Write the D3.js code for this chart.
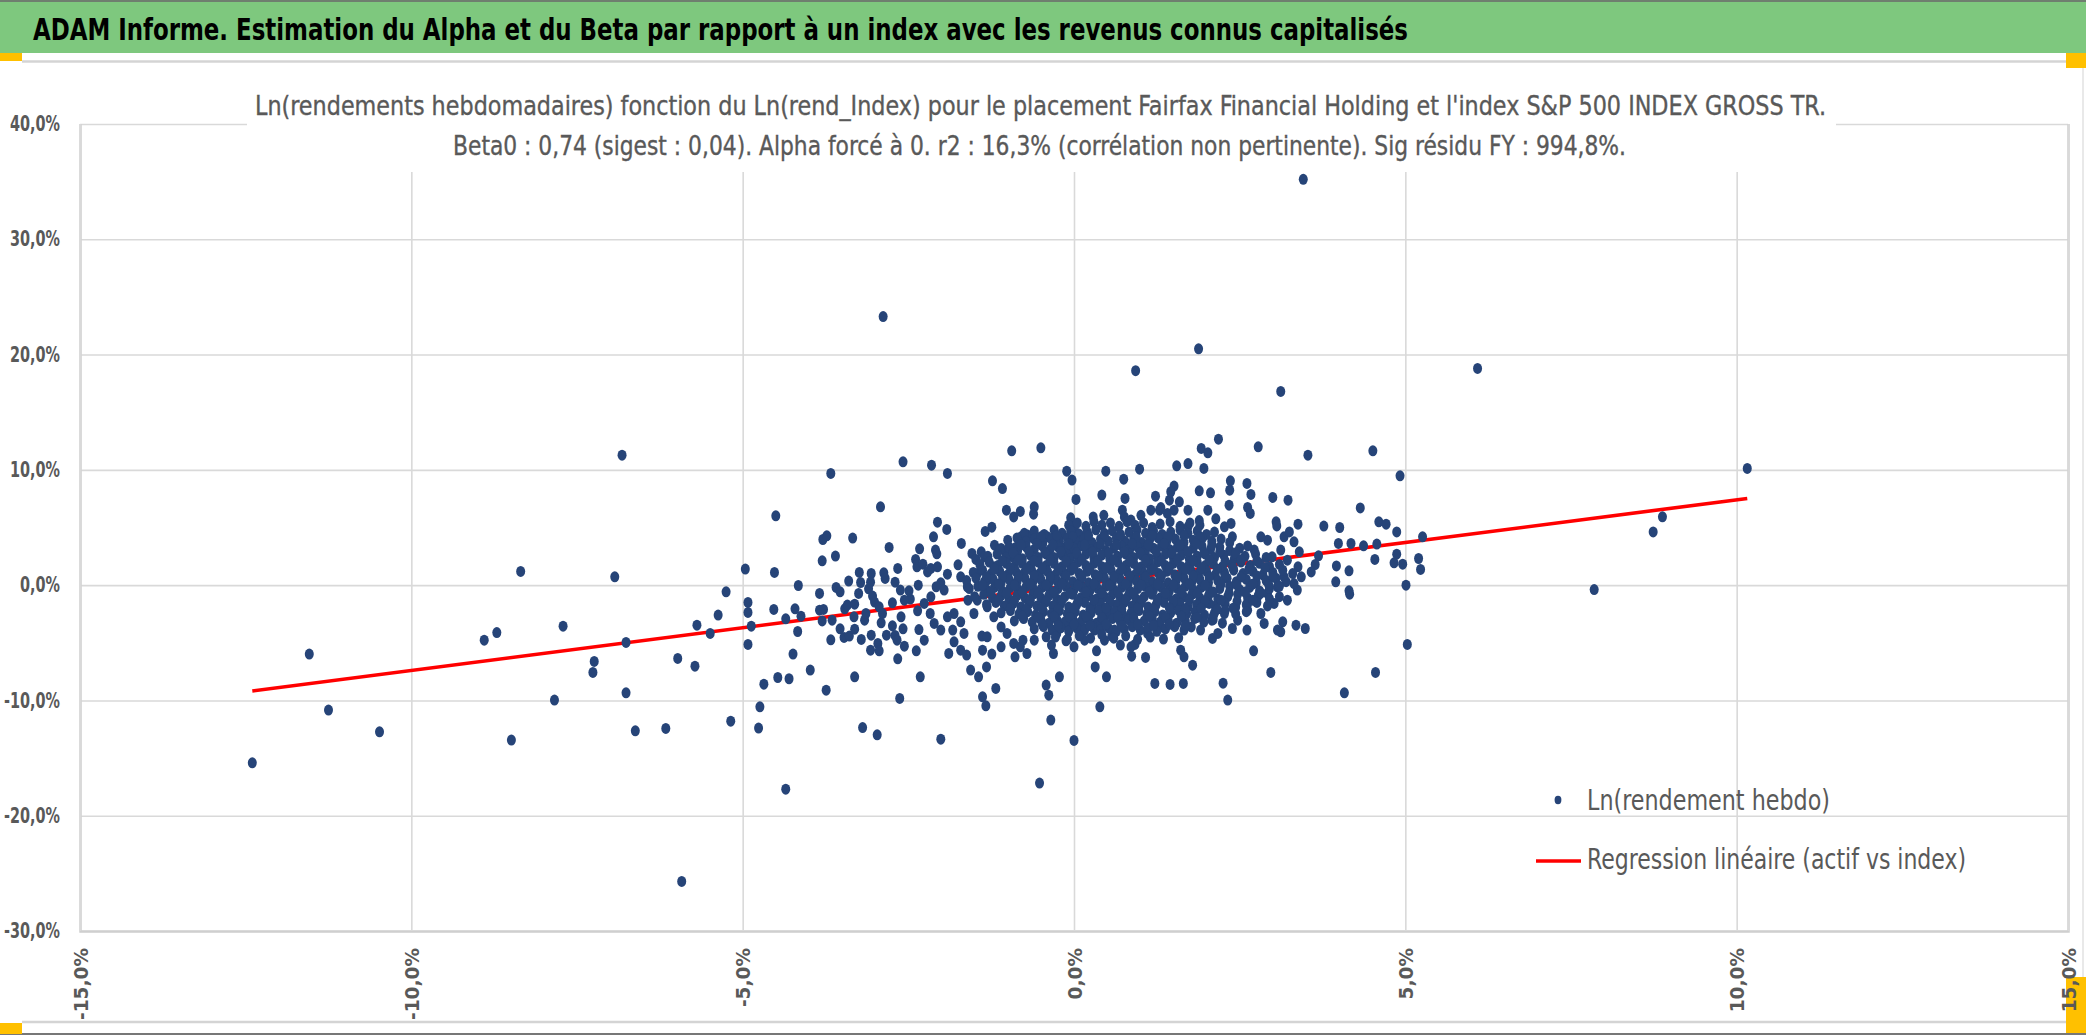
<!DOCTYPE html>
<html>
<head>
<meta charset="utf-8">
<script src="https://cdn.jsdelivr.net/npm/d3@7"></script>
<style>
  body { margin: 0; background: #fff; }
  svg { display: block; }
</style>
</head>
<body>
<div id="chart"></div>
<script>
// ---- text ----
const pageTitle = "ADAM Informe. Estimation du Alpha et du Beta par rapport à un index avec les revenus connus capitalisés";
const chartTitle = [
  "Ln(rendements hebdomadaires) fonction du Ln(rend_Index) pour le placement Fairfax Financial Holding et l'index S&P 500 INDEX GROSS TR.",
  "Beta0 : 0,74 (sigest : 0,04). Alpha forcé à 0. r2 : 16,3% (corrélation non pertinente). Sig résidu FY : 994,8%."
];
const legendLabels = ["Ln(rendement hebdo)", "Regression linéaire (actif vs index)"];

// ---- regression ----
const beta = 0.74;
const alpha = 0;

// ---- axes (percent) ----
const xTicks = [-15, -10, -5, 0, 5, 10, 15];
const yTicks = [-30, -20, -10, 0, 10, 20, 30, 40];

// ---- weekly points [index %, asset %] ----
const outlierPoints = [
  [3.46,35.2],[-2.88,23.3],[1.88,20.5],[6.09,18.8],[0.93,18.6],[3.12,16.8],[10.16,10.12],[8.88,5.93],[8.74,4.62],[7.85,-0.38],
  [-12.40,-15.41],[-11.54,-5.98],[-11.25,-10.84],[-10.48,-12.72],[-8.90,-4.77],[-8.71,-4.11],[-8.35,1.19],[-8.49,-13.44],
  [-7.84,-9.97],[-7.71,-3.56],[-7.26,-7.57],[-7.24,-6.62],[-6.93,0.72],[-6.82,11.27],[-6.76,-4.97],[-6.76,-9.34],[-6.62,-12.64],
  [-6.16,-12.43],[-5.98,-6.36],[-5.72,-7.03],[-5.69,-3.47],[-5.49,-4.19],[-5.37,-2.60],[-5.92,-25.7],
  [-5.18,-11.8],[-4.74,-10.55],[-4.76,-12.4],[-4.35,-17.7],[-3.19,-12.35],[-2.97,-12.98],[-2.01,-13.36],[-1.33,-10.47],
  [-0.52,-17.17],[-0.35,-11.7],[0.0,-13.47],[0.39,-10.55]
];

const leftSpreadPoints = [
  [-0.94,11.65],[-0.50,11.91],[-2.58,10.70],[-2.15,10.41],[-1.91,9.69],[-3.67,9.69],[-0.11,9.89],[-0.03,9.11],[-1.23,9.05],
  [-1.08,8.38],[0.03,7.43],[-2.92,6.79],[-4.50,6.01],[-1.02,6.50],[-0.91,5.92],[-0.81,6.39],[-0.60,6.79],[-0.61,6.16],
  [-0.05,5.84],[-2.06,5.46],[-1.92,4.83],[-1.34,4.66],[-1.24,5.03],[-2.12,4.19],[-3.34,4.08],[-3.79,3.96],[-3.73,4.28],
  [-2.79,3.27],[-1.70,3.62],[-2.33,3.15],[-2.09,3.04],[-2.07,2.72],[-3.60,2.52],[-3.80,2.11],[-4.96,1.39],[-4.52,1.10],
  [-5.25,-0.58],[-4.16,-0.03],[-3.84,-0.72],[-4.92,-1.50],[-4.92,-2.37],[-4.87,-3.56],[-4.53,-2.11],[-4.92,-5.14],
  [-4.35,-2.92],[-4.21,-2.05],[-4.17,-4.02],[-4.12,-2.69],[-4.24,-5.98],[-4.68,-8.59],[-4.47,-8.01],[-4.30,-8.12],
  [-3.98,-7.37],[-3.74,-9.11],[-3.31,-7.95],[-2.63,-9.83],[-2.32,-7.95],
  [-3.40,0.35],[-3.24,1.10],[-3.06,1.01],[-2.87,1.07],[-2.85,0.58],[-2.66,1.45],[-2.70,0.26],[-3.22,0.23],[-3.25,-0.72],
  [-3.10,-0.32],[-3.07,0.26],[-3.59,-0.20],[-3.53,-0.58],[-3.84,-2.17],[-3.78,-2.11],[-3.80,-3.10],[-3.65,-3.04],
  [-3.67,-4.74],[-3.53,-3.79],[-3.46,-2.05],[-3.42,-1.73],[-3.47,-4.54],[-3.39,-4.42],[-3.31,-3.82],[-3.31,-1.65],
  [-3.32,-2.75],[-3.21,-4.71],[-3.16,-3.04],[-3.14,-2.46],[-3.07,-5.64],[-3.06,-4.34],[-2.96,-5.06],[-2.94,-5.70],
  [-2.91,-3.27],[-2.83,-4.34],[-2.74,-3.53],[-2.70,-4.36],[-2.67,-4.77],[-2.66,-6.39],[-2.61,-2.75],[-2.58,-3.79],
  [-2.56,-5.29],[-2.38,-5.70],[-2.26,-4.77],[-2.34,-3.85],[-2.47,-1.21],[-2.62,-0.43],[-2.49,-0.49],[-2.56,-1.30],
  [-2.74,-1.53],[-3.01,-1.47],[-3.04,-0.95],[-2.94,-1.88],[-2.89,-2.46],[-2.36,-2.23],[-2.35,0.0],[-2.37,1.59],
  [-2.39,2.23],[-2.28,1.82],[-2.21,1.15],[-2.16,1.45],[-2.06,1.59],[-2.01,0.20],[-1.91,0.95],[-1.75,1.76],[-1.54,2.75],
  [-1.48,2.23],[-1.40,2.89],[-1.35,2.46],[-1.20,3.47],[-1.10,3.18],[-1.03,2.75],[-0.93,2.46],[-0.88,3.27],[-0.80,4.19],
  [-0.70,4.34],[-0.65,4.19],[-0.55,3.62],[-0.40,4.19],[-0.32,4.05],[-0.25,3.76],[-0.12,3.32],[-0.05,3.04],[0.0,5.06],
  [0.06,4.48],[0.08,4.05],
  [-1.71,-5.64],[-1.89,-5.92],[-1.62,-6.07],[-1.56,-7.37],[-1.44,-7.95],[-1.38,-5.64],[-1.32,-7.09],[-1.24,-5.98],
  [-1.18,-8.96],[-1.10,-5.35],[-0.89,-6.22],[-0.81,-5.35],[-0.77,-4.77],[-0.42,-8.67],[-0.38,-9.54],[-0.22,-7.95],
  [-0.34,-5.20],[-0.42,-4.48],[-0.26,-4.19],[-0.12,-4.83],[0.09,-4.19],[-1.38,-9.69],[-1.39,-4.42],[-1.81,-4.92],
  [-1.83,-3.90],[-2.01,-3.90],[-2.11,-3.32],[-2.17,-2.46],[-2.26,-1.59],[-2.16,-1.01],[-2.08,-0.14],[-1.96,-0.43],
  [-1.81,-2.46],[-1.71,-3.18],[-1.91,-2.75],[-1.60,-1.30],
  [-1.46,1.01],[-1.31,0.43],[-1.21,1.59],[-1.46,-1.30],[-1.31,-1.88],[-1.21,-2.75],[-1.10,-3.62],[-1.51,-2.46],
  [-1.61,-0.14],[-1.71,0.72],[-1.66,-4.19],[-1.31,-4.48],[-1.01,-4.19],[-0.91,-5.06],[-0.60,-4.77],[-0.09,-3.62],
  [0.0,-5.35],[-0.31,-5.93],[-0.71,-5.93]
];

const rightSpreadPoints = [
  [2.18,12.66],[1.92,11.86],[2.02,11.48],[2.78,12.0],[3.53,11.27],[4.51,11.65],[4.92,9.48],[0.48,9.89],[0.99,10.06],
  [0.75,9.19],[1.55,10.35],[1.72,10.55],[1.96,10.12],[0.42,7.81],[0.77,7.52],[1.23,7.72],[1.51,8.59],[1.89,8.18],
  [2.06,8.01],[2.36,9.05],[2.35,8.24],[2.61,8.82],[2.67,7.87],[2.34,6.94],[2.62,6.74],[2.66,6.22],[3.00,7.61],[3.23,7.37],
  [4.32,6.70],[4.60,5.49],[4.71,5.29],[4.87,4.62],[3.77,5.12],[4.01,5.00],[3.38,5.29],[3.05,5.49],[3.06,5.14],[5.26,4.19],
  [3.99,3.62],[4.18,3.62],[4.37,3.41],[4.57,3.56],[4.87,2.69],[4.83,1.94],[4.96,1.82],[5.20,2.31],[5.23,1.36],[4.54,2.23],
  [3.96,1.67],[4.15,1.24],[3.95,0.29],[4.15,-0.49],[4.16,-0.78],[5.01,0.0],[5.03,-5.14],[4.55,-7.57],[4.08,-9.34],
  [2.97,-7.57],[2.71,-5.70],[2.32,-9.97],[3.69,2.54],[3.64,1.79],[3.58,1.15],[3.43,0.72],[3.37,-0.43],[3.49,-3.76],
  [3.35,-3.47],[3.15,-3.18],[3.12,-4.05],[3.07,-3.90],[2.87,-3.32],[2.61,-3.90],[2.39,-3.76],[2.09,-4.62],[2.08,-3.04],
  [2.04,-1.59],[1.91,-3.90],[1.77,-3.62],[1.79,-6.94],[1.61,-5.64],[1.66,-6.22],[1.58,-4.57],[1.35,-4.68],[1.65,-8.53],
  [1.45,-8.61],[1.22,-8.53],[1.08,-6.27],[0.87,-6.16],[0.92,-5.14],[0.70,-5.20],[0.49,-7.95],[0.32,-7.09],[0.34,-5.70],
  [0.46,-4.77],[0.57,-4.42],[0.31,-3.90],[0.16,-4.77],[0.15,-3.76],[2.25,-8.5],
  [0.29,5.92],[0.45,6.06],[0.73,6.5],[0.76,5.92],[1.01,6.06],[1.29,6.5],[1.44,7.37],[1.59,7.23],[1.46,8.1],[1.51,6.5],
  [1.72,6.5],[2.02,6.5],[1.72,5.06],[1.89,5.6],[2.14,5.75],[2.27,5.06],[2.39,4.19],[2.37,5.35],[1.31,6.73],[1.16,6.50],
  [1.41,6.22],[0.86,5.64],
  [3.17,4.19],[3.25,4.62],[3.32,3.76],[3.40,2.89],[3.12,3.04],[2.92,3.90],[2.82,4.19],[2.72,3.04],[2.99,2.46],[3.22,2.17],
  [3.38,1.59],[3.17,0.72],[3.32,0.14],[3.07,-0.14],[2.92,-0.72],[3.22,-1.30],[3.02,-1.59],[2.82,-2.46],[2.62,-2.17],
  [2.47,-3.04],[2.27,-2.46],[2.17,-4.19],[2.62,-1.59],
  [0.21,-2.75],[0.41,-3.04],[0.61,-3.90],[1.11,-4.19],[1.31,-3.62],[0.86,-5.35]
];

// the solid blob around the origin
const denseCorePoints = [
  [-0.08,5.2],[0.05,5.4],[0.18,5.1],[0.3,5.5],[0.42,5.2],[0.55,5.4],[0.68,5.1],[0.8,5.5],[0.92,5.2],[1.05,5.4],[1.18,5.0],
  [1.3,5.3],[1.45,5.5],[1.6,5.1],[1.75,5.4],[1.9,5.2],
  [-0.75,4.5],[-0.6,4.7],[-0.45,4.4],[-0.3,4.8],[-0.18,4.5],[-0.05,4.7],[0.08,4.4],[0.2,4.6],[0.33,4.8],[0.46,4.5],[0.58,4.7],
  [0.7,4.4],[0.83,4.6],[0.95,4.8],[1.08,4.5],[1.2,4.7],[1.33,4.4],[1.46,4.6],[1.6,4.8],[1.72,4.5],[1.86,4.7],[2.0,4.4],[2.12,4.6],
  [-1.0,3.9],[-0.86,4.1],[-0.72,3.8],[-0.6,4.0],[-0.47,3.7],[-0.34,4.0],[-0.22,3.8],[-0.1,4.1],[0.03,3.8],[0.15,4.0],[0.27,3.7],
  [0.4,4.0],[0.52,3.8],[0.64,4.1],[0.77,3.8],[0.9,4.0],[1.02,3.7],[1.14,3.9],[1.27,4.1],[1.4,3.8],[1.53,4.0],[1.66,3.7],[1.8,3.9],
  [1.94,4.1],[2.08,3.8],[2.22,4.0],[2.35,3.7],
  [-1.12,3.1],[-0.98,3.3],[-0.85,3.0],[-0.72,3.3],[-0.6,3.1],[-0.48,3.4],[-0.36,3.1],[-0.24,3.3],[-0.12,3.0],[0.0,3.2],[0.12,3.4],
  [0.24,3.1],[0.36,3.3],[0.48,3.0],[0.6,3.2],[0.72,3.4],[0.84,3.1],[0.96,3.3],[1.08,3.0],[1.2,3.2],[1.32,3.4],[1.44,3.1],[1.56,3.3],
  [1.68,3.0],[1.8,3.2],[1.93,3.4],[2.06,3.1],[2.2,3.3],[2.35,3.0],[2.5,3.2],[2.62,3.4],
  [-1.3,2.5],[-1.16,2.7],[-1.02,2.4],[-0.9,2.6],[-0.78,2.3],[-0.66,2.6],[-0.54,2.4],[-0.42,2.7],[-0.3,2.4],[-0.18,2.6],[-0.06,2.3],
  [0.06,2.5],[0.18,2.7],[0.3,2.4],[0.42,2.6],[0.54,2.3],[0.66,2.5],[0.78,2.7],[0.9,2.4],[1.02,2.6],[1.14,2.3],[1.26,2.5],[1.38,2.7],
  [1.5,2.4],[1.62,2.6],[1.74,2.3],[1.86,2.5],[1.98,2.7],[2.12,2.4],[2.26,2.6],[2.42,2.3],[2.58,2.5],[2.74,2.7],[2.9,2.4],
  [-1.42,1.8],[-1.28,2.0],[-1.15,1.7],[-1.02,1.9],[-0.9,1.6],[-0.78,1.9],[-0.66,1.7],[-0.54,2.0],[-0.42,1.7],[-0.3,1.9],[-0.18,1.6],
  [-0.06,1.8],[0.06,2.0],[0.18,1.7],[0.3,1.9],[0.42,1.6],[0.54,1.8],[0.66,2.0],[0.78,1.7],[0.9,1.9],[1.02,1.6],[1.14,1.8],[1.26,2.0],
  [1.38,1.7],[1.5,1.9],[1.62,1.6],[1.74,1.8],[1.86,2.0],[1.98,1.7],[2.1,1.9],[2.24,1.6],[2.38,1.8],[2.52,2.0],[2.66,1.7],[2.8,1.9],
  [2.95,1.6],[3.1,1.8],
  [-1.52,1.1],[-1.38,1.3],[-1.25,1.0],[-1.12,1.2],[-1.0,0.9],[-0.88,1.2],[-0.76,1.0],[-0.64,1.3],[-0.52,1.0],[-0.4,1.2],[-0.28,0.9],
  [-0.16,1.1],[-0.04,1.3],[0.08,1.0],[0.2,1.2],[0.32,0.9],[0.44,1.1],[0.56,1.3],[0.68,1.0],[0.8,1.2],[0.92,0.9],[1.04,1.1],[1.16,1.3],
  [1.28,1.0],[1.4,1.2],[1.52,0.9],[1.64,1.1],[1.76,1.3],[1.88,1.0],[2.0,1.2],[2.13,0.9],[2.27,1.1],[2.41,1.3],[2.55,1.0],[2.7,1.2],
  [2.85,0.9],[3.0,1.1],[3.15,1.3],[3.3,1.0],
  [-1.62,0.4],[-1.48,0.6],[-1.35,0.3],[-1.22,0.5],[-1.1,0.2],[-0.98,0.5],[-0.86,0.3],[-0.74,0.6],[-0.62,0.3],[-0.5,0.5],[-0.38,0.2],
  [-0.26,0.4],[-0.14,0.6],[-0.02,0.3],[0.1,0.5],[0.22,0.2],[0.34,0.4],[0.46,0.6],[0.58,0.3],[0.7,0.5],[0.82,0.2],[0.94,0.4],[1.06,0.6],
  [1.18,0.3],[1.3,0.5],[1.42,0.2],[1.54,0.4],[1.66,0.6],[1.78,0.3],[1.9,0.5],[2.03,0.2],[2.17,0.4],[2.31,0.6],[2.45,0.3],[2.6,0.5],
  [2.75,0.2],[2.9,0.4],[3.05,0.6],[3.2,0.3],
  [-1.58,-0.3],[-1.45,-0.1],[-1.32,-0.4],[-1.2,-0.2],[-1.08,-0.5],[-0.96,-0.2],[-0.84,-0.4],[-0.72,-0.1],[-0.6,-0.4],[-0.48,-0.2],
  [-0.36,-0.5],[-0.24,-0.3],[-0.12,-0.1],[0.0,-0.4],[0.12,-0.2],[0.24,-0.5],[0.36,-0.3],[0.48,-0.1],[0.6,-0.4],[0.72,-0.2],[0.84,-0.5],
  [0.96,-0.3],[1.08,-0.1],[1.2,-0.4],[1.32,-0.2],[1.44,-0.5],[1.56,-0.3],[1.68,-0.1],[1.8,-0.4],[1.92,-0.2],[2.05,-0.5],[2.2,-0.3],
  [2.35,-0.1],[2.5,-0.4],[2.65,-0.2],[2.8,-0.5],[2.95,-0.3],[3.1,-0.1],
  [-1.5,-1.0],[-1.36,-0.8],[-1.23,-1.1],[-1.1,-0.9],[-0.98,-1.2],[-0.86,-0.9],[-0.74,-1.1],[-0.62,-0.8],[-0.5,-1.1],[-0.38,-0.9],
  [-0.26,-1.2],[-0.14,-1.0],[-0.02,-0.8],[0.1,-1.1],[0.22,-0.9],[0.34,-1.2],[0.46,-1.0],[0.58,-0.8],[0.7,-1.1],[0.82,-0.9],[0.94,-1.2],
  [1.06,-1.0],[1.18,-0.8],[1.3,-1.1],[1.42,-0.9],[1.54,-1.2],[1.66,-1.0],[1.78,-0.8],[1.9,-1.1],[2.03,-0.9],[2.17,-1.2],[2.32,-1.0],
  [2.47,-0.8],[2.62,-1.1],[2.78,-0.9],[2.95,-1.2],[3.1,-1.0],
  [-1.32,-1.7],[-1.18,-1.5],[-1.05,-1.8],[-0.92,-1.6],[-0.8,-1.9],[-0.68,-1.6],[-0.56,-1.8],[-0.44,-1.5],[-0.32,-1.8],[-0.2,-1.6],
  [-0.08,-1.9],[0.04,-1.7],[0.16,-1.5],[0.28,-1.8],[0.4,-1.6],[0.52,-1.9],[0.64,-1.7],[0.76,-1.5],[0.88,-1.8],[1.0,-1.6],[1.12,-1.9],
  [1.24,-1.7],[1.36,-1.5],[1.48,-1.8],[1.6,-1.6],[1.72,-1.9],[1.85,-1.7],[1.99,-1.5],[2.13,-1.8],[2.28,-1.6],[2.44,-1.9],[2.6,-1.7],
  [2.76,-1.5],[2.92,-1.8],
  [-1.1,-2.4],[-0.96,-2.2],[-0.83,-2.5],[-0.7,-2.3],[-0.58,-2.6],[-0.46,-2.3],[-0.34,-2.5],[-0.22,-2.2],[-0.1,-2.5],[0.02,-2.3],
  [0.14,-2.6],[0.26,-2.4],[0.38,-2.2],[0.5,-2.5],[0.62,-2.3],[0.74,-2.6],[0.86,-2.4],[0.98,-2.2],[1.1,-2.5],[1.22,-2.3],[1.34,-2.6],
  [1.46,-2.4],[1.58,-2.2],[1.7,-2.5],[1.83,-2.3],[1.97,-2.6],[2.12,-2.4],[2.28,-2.2],[2.44,-2.5],[2.6,-2.3],
  [-0.9,-3.1],[-0.76,-2.9],[-0.63,-3.2],[-0.5,-3.0],[-0.38,-3.3],[-0.26,-3.0],[-0.14,-3.2],[-0.02,-2.9],[0.1,-3.2],[0.22,-3.0],
  [0.34,-3.3],[0.46,-3.1],[0.58,-2.9],[0.7,-3.2],[0.82,-3.0],[0.94,-3.3],[1.06,-3.1],[1.18,-2.9],[1.3,-3.2],[1.42,-3.0],[1.55,-3.3],
  [1.68,-3.1],[1.82,-2.9],[1.96,-3.2],[2.1,-3.0],[2.24,-3.3],
  [-0.6,-3.8],[-0.46,-3.6],[-0.33,-3.9],[-0.2,-3.7],[-0.08,-4.0],[0.04,-3.7],[0.16,-3.9],[0.28,-3.6],[0.4,-3.9],[0.52,-3.7],
  [0.64,-4.0],[0.76,-3.8],[0.88,-3.6],[1.0,-3.9],[1.12,-3.7],[1.25,-4.0],[1.38,-3.8],[1.52,-3.6],[1.66,-3.9],
  [-0.28,-4.5],[-0.1,-4.7],[0.08,-4.4],[0.25,-4.6],[0.42,-4.3],[0.6,-4.6],[0.78,-4.4],[0.96,-4.7],[1.15,-4.5]
];

// more weeks packed between the rows of the blob
const denseCoreFill = [
  [-0.5,4.2],[-0.26,4.3],[-0.02,4.2],[0.22,4.3],[0.46,4.2],[0.7,4.3],[0.94,4.2],[1.18,4.3],[1.42,4.2],[1.66,4.3],[1.9,4.2],
  [-0.8,3.5],[-0.56,3.6],[-0.32,3.5],[-0.08,3.6],[0.16,3.5],[0.4,3.6],[0.64,3.5],[0.88,3.6],[1.12,3.5],[1.36,3.6],[1.6,3.5],
  [1.84,3.6],[2.08,3.5],
  [-0.92,2.8],[-0.68,2.9],[-0.44,2.8],[-0.2,2.9],[0.04,2.8],[0.28,2.9],[0.52,2.8],[0.76,2.9],[1.0,2.8],[1.24,2.9],[1.48,2.8],
  [1.72,2.9],[1.96,2.8],[2.2,2.9],[2.44,2.8],
  [-1.08,2.1],[-0.84,2.2],[-0.6,2.1],[-0.36,2.2],[-0.12,2.1],[0.12,2.2],[0.36,2.1],[0.6,2.2],[0.84,2.1],[1.08,2.2],[1.32,2.1],
  [1.56,2.2],[1.8,2.1],[2.04,2.2],[2.28,2.1],[2.52,2.2],[2.76,2.1],
  [-1.2,1.4],[-0.96,1.5],[-0.72,1.4],[-0.48,1.5],[-0.24,1.4],[0.0,1.5],[0.24,1.4],[0.48,1.5],[0.72,1.4],[0.96,1.5],[1.2,1.4],
  [1.44,1.5],[1.68,1.4],[1.92,1.5],[2.16,1.4],[2.4,1.5],[2.64,1.4],[2.88,1.5],
  [-1.32,0.7],[-1.08,0.8],[-0.84,0.7],[-0.6,0.8],[-0.36,0.7],[-0.12,0.8],[0.12,0.7],[0.36,0.8],[0.6,0.7],[0.84,0.8],[1.08,0.7],
  [1.32,0.8],[1.56,0.7],[1.8,0.8],[2.04,0.7],[2.28,0.8],[2.52,0.7],[2.76,0.8],[3.0,0.7],
  [-1.38,0.0],[-1.14,0.1],[-0.9,0.0],[-0.66,0.1],[-0.42,0.0],[-0.18,0.1],[0.06,0.0],[0.3,0.1],[0.54,0.0],[0.78,0.1],[1.02,0.0],
  [1.26,0.1],[1.5,0.0],[1.74,0.1],[1.98,0.0],[2.22,0.1],[2.46,0.0],[2.7,0.1],[2.94,0.0],
  [-1.26,-0.6],[-1.02,-0.7],[-0.78,-0.6],[-0.54,-0.7],[-0.3,-0.6],[-0.06,-0.7],[0.18,-0.6],[0.42,-0.7],[0.66,-0.6],[0.9,-0.7],
  [1.14,-0.6],[1.38,-0.7],[1.62,-0.6],[1.86,-0.7],[2.1,-0.6],[2.34,-0.7],[2.58,-0.6],[2.82,-0.7],
  [-1.14,-1.3],[-0.9,-1.4],[-0.66,-1.3],[-0.42,-1.4],[-0.18,-1.3],[0.06,-1.4],[0.3,-1.3],[0.54,-1.4],[0.78,-1.3],[1.02,-1.4],
  [1.26,-1.3],[1.5,-1.4],[1.74,-1.3],[1.98,-1.4],[2.22,-1.3],[2.46,-1.4],[2.7,-1.3],
  [-0.96,-2.0],[-0.72,-2.1],[-0.48,-2.0],[-0.24,-2.1],[0.0,-2.0],[0.24,-2.1],[0.48,-2.0],[0.72,-2.1],[0.96,-2.0],[1.2,-2.1],
  [1.44,-2.0],[1.68,-2.1],[1.92,-2.0],[2.16,-2.1],[2.4,-2.0],
  [-0.78,-2.7],[-0.54,-2.8],[-0.3,-2.7],[-0.06,-2.8],[0.18,-2.7],[0.42,-2.8],[0.66,-2.7],[0.9,-2.8],[1.14,-2.7],[1.38,-2.8],
  [1.62,-2.7],[1.86,-2.8],[2.1,-2.7],
  [-0.48,-3.4],[-0.24,-3.5],[0.0,-3.4],[0.24,-3.5],[0.48,-3.4],[0.72,-3.5],[0.96,-3.4],[1.2,-3.5],[1.44,-3.4],[1.68,-3.5]
];

const weeklyPoints = [...outlierPoints, ...leftSpreadPoints, ...rightSpreadPoints, ...denseCorePoints, ...denseCoreFill];

// ---- layout ----
const W = 2086, H = 1035;
const plot = {left: 80, right: 2068, top: 124, bottom: 931};
const gridColor = "#d9d9d9";
const textGrey = "#595959";
const dotColor = "#264478";
const narrowFont = "'Liberation Sans Narrow', 'Arial Narrow', 'DejaVu Sans Condensed', 'Open Sans', sans-serif";

const pct = v => v.toFixed(1).replace(".", ",") + "%";

const svg = d3.select("#chart").append("svg")
  .attr("width", W)
  .attr("height", H);

svg.append("rect").attr("width", W).attr("height", H).attr("fill", "#fff");

// header banner and frame bits
svg.append("rect").attr("x", 0).attr("y", 0).attr("width", W).attr("height", 53).attr("fill", "#7ec87e");
svg.append("rect").attr("x", 0).attr("y", 0).attr("width", W).attr("height", 2).attr("fill", "#6f7f6f");
svg.append("line").attr("x1", 22).attr("x2", 2066).attr("y1", 61.5).attr("y2", 61.5)
  .attr("stroke", "#d4d4d4").attr("stroke-width", 2.5);
svg.append("line").attr("x1", 22).attr("x2", 2066).attr("y1", 1022).attr("y2", 1022)
  .attr("stroke", "#d4d4d4").attr("stroke-width", 2.5);
svg.append("line").attr("x1", 2083).attr("x2", 2083).attr("y1", 68).attr("y2", 977)
  .attr("stroke", "#e2e2e2").attr("stroke-width", 1.5);
svg.append("rect").attr("x", 0).attr("y", 1033).attr("width", W).attr("height", 2).attr("fill", "#777");
[[0, 53, 22, 8], [0, 1023, 22, 11], [2066, 53, 20, 15], [2066, 977, 20, 56]].forEach(([x, y, w, h]) => {
  svg.append("rect").attr("x", x).attr("y", y).attr("width", w).attr("height", h).attr("fill", "#ffc000");
});

function fit(sel, width) {
  sel.attr("textLength", width).attr("lengthAdjust", "spacingAndGlyphs");
}

svg.append("text")
  .attr("x", 33).attr("y", 40)
  .attr("font-family", narrowFont)
  .attr("font-size", 30).attr("font-weight", "bold")
  .attr("fill", "#000")
  .text(pageTitle)
  .call(fit, 1375);

// scales
const x = d3.scaleLinear().domain([-15, 15]).range([plot.left, plot.right]);
const y = d3.scaleLinear().domain([-30, 40]).range([plot.bottom, plot.top]);

// y axis with horizontal gridlines
const yAxis = svg.append("g")
  .attr("transform", `translate(${plot.left},0)`)
  .call(d3.axisLeft(y).tickValues(yTicks).tickFormat(pct)
    .tickSize(-(plot.right - plot.left)).tickPadding(20));
yAxis.select(".domain").remove();
yAxis.selectAll(".tick line").attr("stroke", gridColor).attr("stroke-width", 1.6);
yAxis.selectAll(".tick text")
  .attr("font-family", narrowFont).attr("font-size", 22).attr("font-weight", "bold")
  .attr("fill", textGrey).attr("dy", "0.3em");
{
  const texts = yAxis.selectAll(".tick text").nodes();
  const ref = texts.find(n => n.textContent === "40,0%");
  const k = 50 / ref.getComputedTextLength();
  texts.forEach(n => d3.select(n).call(fit, n.getComputedTextLength() * k));
}

// x axis with vertical gridlines
const xAxis = svg.append("g")
  .attr("transform", `translate(0,${plot.bottom})`)
  .call(d3.axisBottom(x).tickValues(xTicks).tickFormat(pct)
    .tickSize(-(plot.bottom - plot.top)));
xAxis.select(".domain").attr("stroke", "#cfcfcf").attr("stroke-width", 2.5);
xAxis.selectAll(".tick line").attr("stroke", gridColor).attr("stroke-width", 1.6);
xAxis.selectAll(".tick text")
  .attr("font-family", "'DejaVu Sans', Verdana, sans-serif").attr("font-size", 20).attr("font-weight", "bold")
  .attr("fill", textGrey)
  .attr("transform", "rotate(-90)")
  .attr("text-anchor", "end")
  .attr("x", -17).attr("y", 0).attr("dy", "0.36em");
{
  const texts = xAxis.selectAll(".tick text").nodes();
  const ref = texts.find(n => n.textContent === "-15,0%");
  const k = 72 / ref.getComputedTextLength();
  texts.forEach(n => d3.select(n).call(fit, n.getComputedTextLength() * k));
}

// chart title on a white box hiding the top gridlines
svg.append("rect").attr("x", 247).attr("y", 78).attr("width", 1589).attr("height", 94).attr("fill", "#fff");
const titleLayout = [{baseline: 115, cx: 1040.5, w: 1571}, {baseline: 155, cx: 1039.5, w: 1173}];
chartTitle.forEach((t, i) => {
  svg.append("text")
    .attr("x", titleLayout[i].cx).attr("y", titleLayout[i].baseline)
    .attr("text-anchor", "middle")
    .attr("font-family", narrowFont).attr("font-size", 27)
    .attr("fill", textGrey)
    .attr("stroke", textGrey).attr("stroke-width", 0.35)
    .text(t)
    .call(fit, titleLayout[i].w);
});

// regression line, drawn under the points
const xExtent = d3.extent(weeklyPoints, d => d[0]);
const line = d3.line().x(d => x(d)).y(d => y(alpha + beta * d));
svg.append("path")
  .datum(xExtent)
  .attr("d", line)
  .attr("fill", "none")
  .attr("stroke", "#ff0000")
  .attr("stroke-width", 3.6);

// scatter
svg.append("g")
  .selectAll("ellipse")
  .data(weeklyPoints)
  .join("ellipse")
  .attr("cx", d => x(d[0]))
  .attr("cy", d => y(d[1]))
  .attr("rx", 4.5)
  .attr("ry", 5.5)
  .attr("fill", dotColor);

// legend
const legend = svg.append("g");
legend.append("ellipse").attr("cx", 1558).attr("cy", 800).attr("rx", 3.4).attr("ry", 4.2).attr("fill", dotColor);
legend.append("line").attr("x1", 1536).attr("x2", 1581).attr("y1", 861).attr("y2", 861)
  .attr("stroke", "#ff0000").attr("stroke-width", 3.5);
[[810, 243], [869, 379]].forEach(([by, w], i) => {
  legend.append("text")
    .attr("x", 1587).attr("y", by)
    .attr("font-family", narrowFont).attr("font-size", 28)
    .attr("fill", textGrey)
    .text(legendLabels[i])
    .call(fit, w);
});
</script>
</body>
</html>
